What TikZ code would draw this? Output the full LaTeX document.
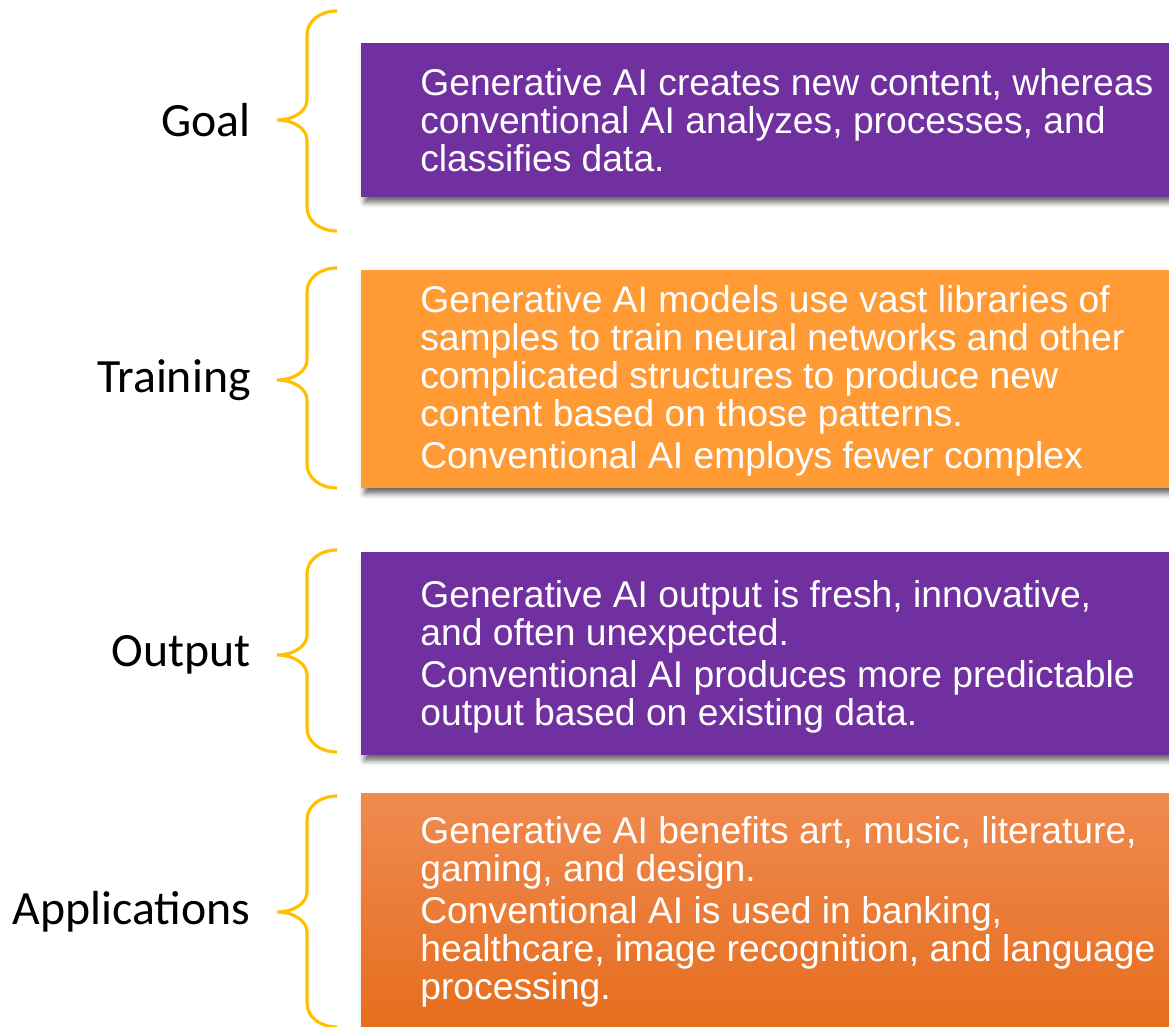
\documentclass[tikz,border=0pt]{standalone}
\usepackage{fontspec}
\newfontfamily\labelfont{Carlito}
\newfontfamily\boxfont{Liberation Sans}
\usetikzlibrary{fit,shadows.blur}
\definecolor{bracegold}{HTML}{FFC000}
\definecolor{aipurple}{HTML}{7030A0}
\definecolor{aiorange}{HTML}{FF9A35}
\definecolor{aitop}{HTML}{F08A50}
\definecolor{aibottom}{HTML}{E56C1B}

\tikzset{
    panel/.style={inner sep=0pt, outer sep=0pt,
        blur shadow={shadow xshift=2pt, shadow yshift=-3pt, shadow blur radius=3pt, shadow opacity=60}},
    panelText/.style={anchor=west, align=left, inner sep=0pt, text=white,
        font=\boxfont\fontsize{21.2}{21.6}\selectfont},
    rowLabel/.style={anchor=east, inner sep=0pt, font=\labelfont\fontsize{27.2}{30}\selectfont},
    brace/.style={draw=bracegold, line width=1.8pt}
}

\begin{document}
\begin{tikzpicture}[x=0.02cm, y=-0.02cm]
    \useasboundingbox (0,0) rectangle (1169,1027);

    % the four braces and their labels
    \foreach \t/\m/\b/\name/\lbl in {11/120/231/goal/Goal, 268/380/488/training/Training,
            550/655/752/output/Output, 796/912/1027/apps/Applications} {
        \draw[brace] (337,\t) .. controls (320,\t) and (307,\t+10) .. (307,\t+24) -- (307,\m-20)
            .. controls (307,\m-9) and (294,\m) .. (277,\m)
            .. controls (294,\m) and (307,\m+9) .. (307,\m+20)
            -- (307,\b-24) .. controls (307,\b-10) and (320,\b) .. (337,\b);
        \coordinate (\name-tip) at (277,\m);
        \node[rowLabel] (\name-label) at ([xshift=-0.52cm]\name-tip) {\lbl};
    }

    % the boxes
    \node[panel, fill=aipurple, fit={(361,43) (1175,197)}] (goal-box) {};
    \node[panel, fill=aiorange, fit={(361,270) (1175,488)}] (training-box) {};
    \node[panel, fill=aipurple, fit={(361,552) (1175,755)}] (output-box) {};
    \node[panel, top color=aitop, bottom color=aibottom, fit={(361,793) (1175,1040)}] (apps-box) {};

    % the texts
    \node[panelText] (goal-text) at ([xshift=1.18cm]goal-box.west)
        {Generative AI creates new content, whereas\\
         conventional AI analyzes, processes, and\\
         classifies data.};
    \node[panelText] (training-text) at ([xshift=1.18cm, yshift=-0.04cm]training-box.west)
        {Generative AI models use vast libraries of\\
         samples to train neural networks and other\\
         complicated structures to produce new\\
         content based on those patterns.\\[2.3pt]
         Conventional AI employs fewer complex};
    \node[panelText] (output-text) at ([xshift=1.18cm, yshift=-0.06cm]output-box.west)
        {Generative AI output is fresh, innovative,\\
         and often unexpected.\\[2.3pt]
         Conventional AI produces more predictable\\
         output based on existing data.};
    \node[panelText] (apps-text) at ([xshift=1.18cm]apps-box.west |- apps-tip)
        {Generative AI benefits art, music, literature,\\
         gaming, and design.\\[2.3pt]
         Conventional AI is used in banking,\\
         healthcare, image recognition, and language\\
         processing.};
\end{tikzpicture}
\end{document}
